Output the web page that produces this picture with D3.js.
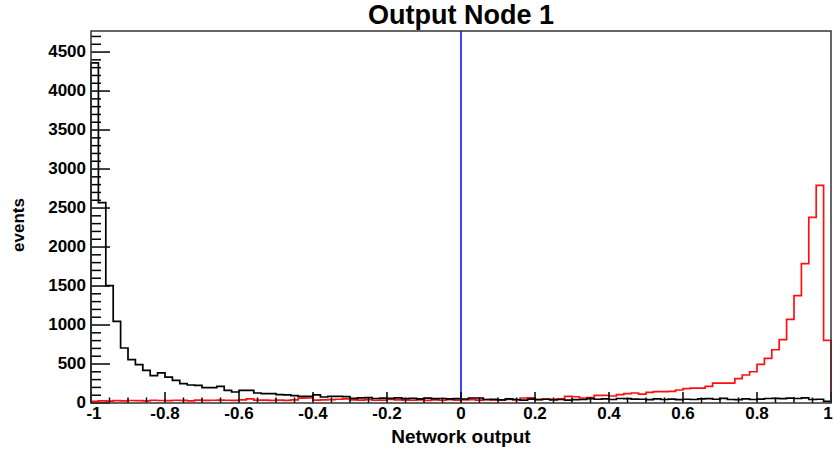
<!DOCTYPE html>
<html>
<head>
<meta charset="utf-8">
<script src="https://cdn.jsdelivr.net/npm/d3@7"></script>
<style>
  html, body { margin: 0; padding: 0; background: #fff; }
  svg { display: block; }
  text { font-family: "Liberation Sans", Arial, Helvetica, sans-serif; font-weight: bold; fill: #000; }
</style>
</head>
<body>
<svg id="chart" width="834" height="454"></svg>
<script>
// Histogram binning: 100 bins over the network output range [-1, 1]
const xMin = -1, xMax = 1, nBins = 100;

// Background sample (black), events per bin
const backgroundCounts = [
  4360, 2570, 1504, 1046, 705, 556, 491, 419, 350, 385,
  333, 291, 248, 231, 225, 197, 197, 214, 162, 141,
  162, 162, 128, 120, 120, 107, 103, 94, 85, 85,
  105, 77, 85, 85, 82, 60, 65, 70, 58, 62,
  60, 65, 55, 60, 52, 62, 55, 58, 52, 55,
  51, 64, 64, 45, 48, 40, 52, 45, 38, 50,
  42, 48, 40, 45, 38, 42, 45, 55, 48, 52,
  45, 58, 55, 50, 48, 42, 52, 45, 50, 42,
  48, 45, 52, 55, 48, 60, 45, 42, 52, 45,
  50, 58, 60, 55, 62, 58, 65, 45, 48, 22
];

// Signal sample (red), events per bin
const signalCounts = [
  22, 28, 25, 30, 28, 32, 30, 28, 35, 32,
  30, 35, 33, 28, 36, 33, 35, 38, 35, 34,
  40, 52, 36, 38, 34, 36, 33, 40, 62, 64,
  38, 40, 42, 48, 52, 40, 38, 42, 35, 38,
  45, 40, 38, 35, 40, 33, 40, 35, 42, 38,
  40, 44, 38, 42, 36, 40, 45, 40, 64, 66,
  45, 50, 48, 52, 85, 80, 64, 70, 98, 98,
  90, 107, 120, 128, 115, 137, 145, 145, 150, 167,
  184, 190, 192, 213, 256, 256, 256, 312, 359, 401,
  495, 572, 683, 812, 1072, 1376, 1786, 2380, 2790, 803
];

// Axis ticks
const xTickValues = [-1, -0.8, -0.6, -0.4, -0.2, 0, 0.2, 0.4, 0.6, 0.8, 1];
const xTickLabels = ["-1", "-0.8", "-0.6", "-0.4", "-0.2", "0", "0.2", "0.4", "0.6", "0.8", "1"];
const yTickValues = [0, 500, 1000, 1500, 2000, 2500, 3000, 3500, 4000, 4500];
const yMax = 4770;
const cutValue = 0;

const title = "Output Node 1";
const xTitle = "Network output";
const yTitle = "events";

const svg = d3.select("#chart");
const frame = { left: 91, right: 831, top: 31, bottom: 403 };

const x = d3.scaleLinear().domain([xMin, xMax]).range([frame.left, frame.right]);
const y = d3.scaleLinear().domain([0, yMax]).range([frame.bottom, frame.top]);

const binWidth = (xMax - xMin) / nBins;

// Step outline of a histogram, starting and ending on the baseline
function histPath(counts) {
  const p = d3.path();
  p.moveTo(x(xMin), y(0));
  counts.forEach((c, i) => {
    const lo = xMin + i * binWidth, hi = lo + binWidth;
    p.lineTo(x(lo), y(c));
    p.lineTo(x(hi), y(c));
  });
  p.lineTo(x(xMax), y(0));
  return p.toString();
}

// Histograms
svg.append("path")
  .attr("d", histPath(signalCounts))
  .attr("fill", "none").attr("stroke", "#ff1010").attr("stroke-width", 1.7);
svg.append("path")
  .attr("d", histPath(backgroundCounts))
  .attr("fill", "none").attr("stroke", "#000").attr("stroke-width", 1.7);

// Cut line at zero
svg.append("line")
  .attr("x1", x(cutValue)).attr("x2", x(cutValue))
  .attr("y1", y(yMax)).attr("y2", y(0))
  .attr("stroke", "#2020ff").attr("stroke-width", 1.7);

// Y axis ticks drawn inside the frame (major every 500, minor every 100)
const yMinor = d3.range(0, yMax, 100);
svg.append("g").selectAll("line").data(yMinor).join("line")
  .attr("x1", frame.left)
  .attr("x2", d => frame.left + (d % 500 === 0 ? 19 : 10))
  .attr("y1", d => y(d)).attr("y2", d => y(d))
  .attr("stroke", "#000").attr("stroke-width", 1.5);

// X axis ticks inside the frame (major every 0.2, minor every 0.05)
const xMinor = d3.range(0, 41).map(i => xMin + i * 0.05);
svg.append("g").selectAll("line").data(xMinor).join("line")
  .attr("x1", d => x(d)).attr("x2", d => x(d))
  .attr("y1", frame.bottom)
  .attr("y2", (d, i) => frame.bottom - (i % 4 === 0 ? 11 : 5.5))
  .attr("stroke", "#000").attr("stroke-width", 1.5);

// Frame
svg.append("rect")
  .attr("x", frame.left).attr("y", frame.top)
  .attr("width", frame.right - frame.left).attr("height", frame.bottom - frame.top)
  .attr("fill", "none").attr("stroke", "#333").attr("stroke-width", 1.5);

// Y tick labels
svg.append("g").selectAll("text").data(yTickValues).join("text")
  .attr("x", frame.left - 5).attr("y", d => y(d) - 1)
  .attr("dy", "0.36em").attr("text-anchor", "end")
  .attr("font-size", 17)
  .text(d => d);

// X tick labels (the end labels are nudged inward to stay clear of the edges)
svg.append("g").selectAll("text").data(xTickValues).join("text")
  .attr("x", d => Math.max(Math.min(x(d), 828), 94)).attr("y", frame.bottom + 16)
  .attr("text-anchor", "middle")
  .attr("font-size", 17)
  .text((d, i) => xTickLabels[i]);

// Titles
svg.append("text")
  .attr("x", (frame.left + frame.right) / 2).attr("y", 24)
  .attr("text-anchor", "middle").attr("font-size", 27)
  .text(title);

svg.append("text")
  .attr("x", (frame.left + frame.right) / 2).attr("y", 443)
  .attr("text-anchor", "middle").attr("font-size", 19)
  .text(xTitle);

svg.append("text")
  .attr("transform", "translate(24,225) rotate(-90)")
  .attr("text-anchor", "middle").attr("font-size", 17)
  .text(yTitle);
</script>
</body>
</html>
